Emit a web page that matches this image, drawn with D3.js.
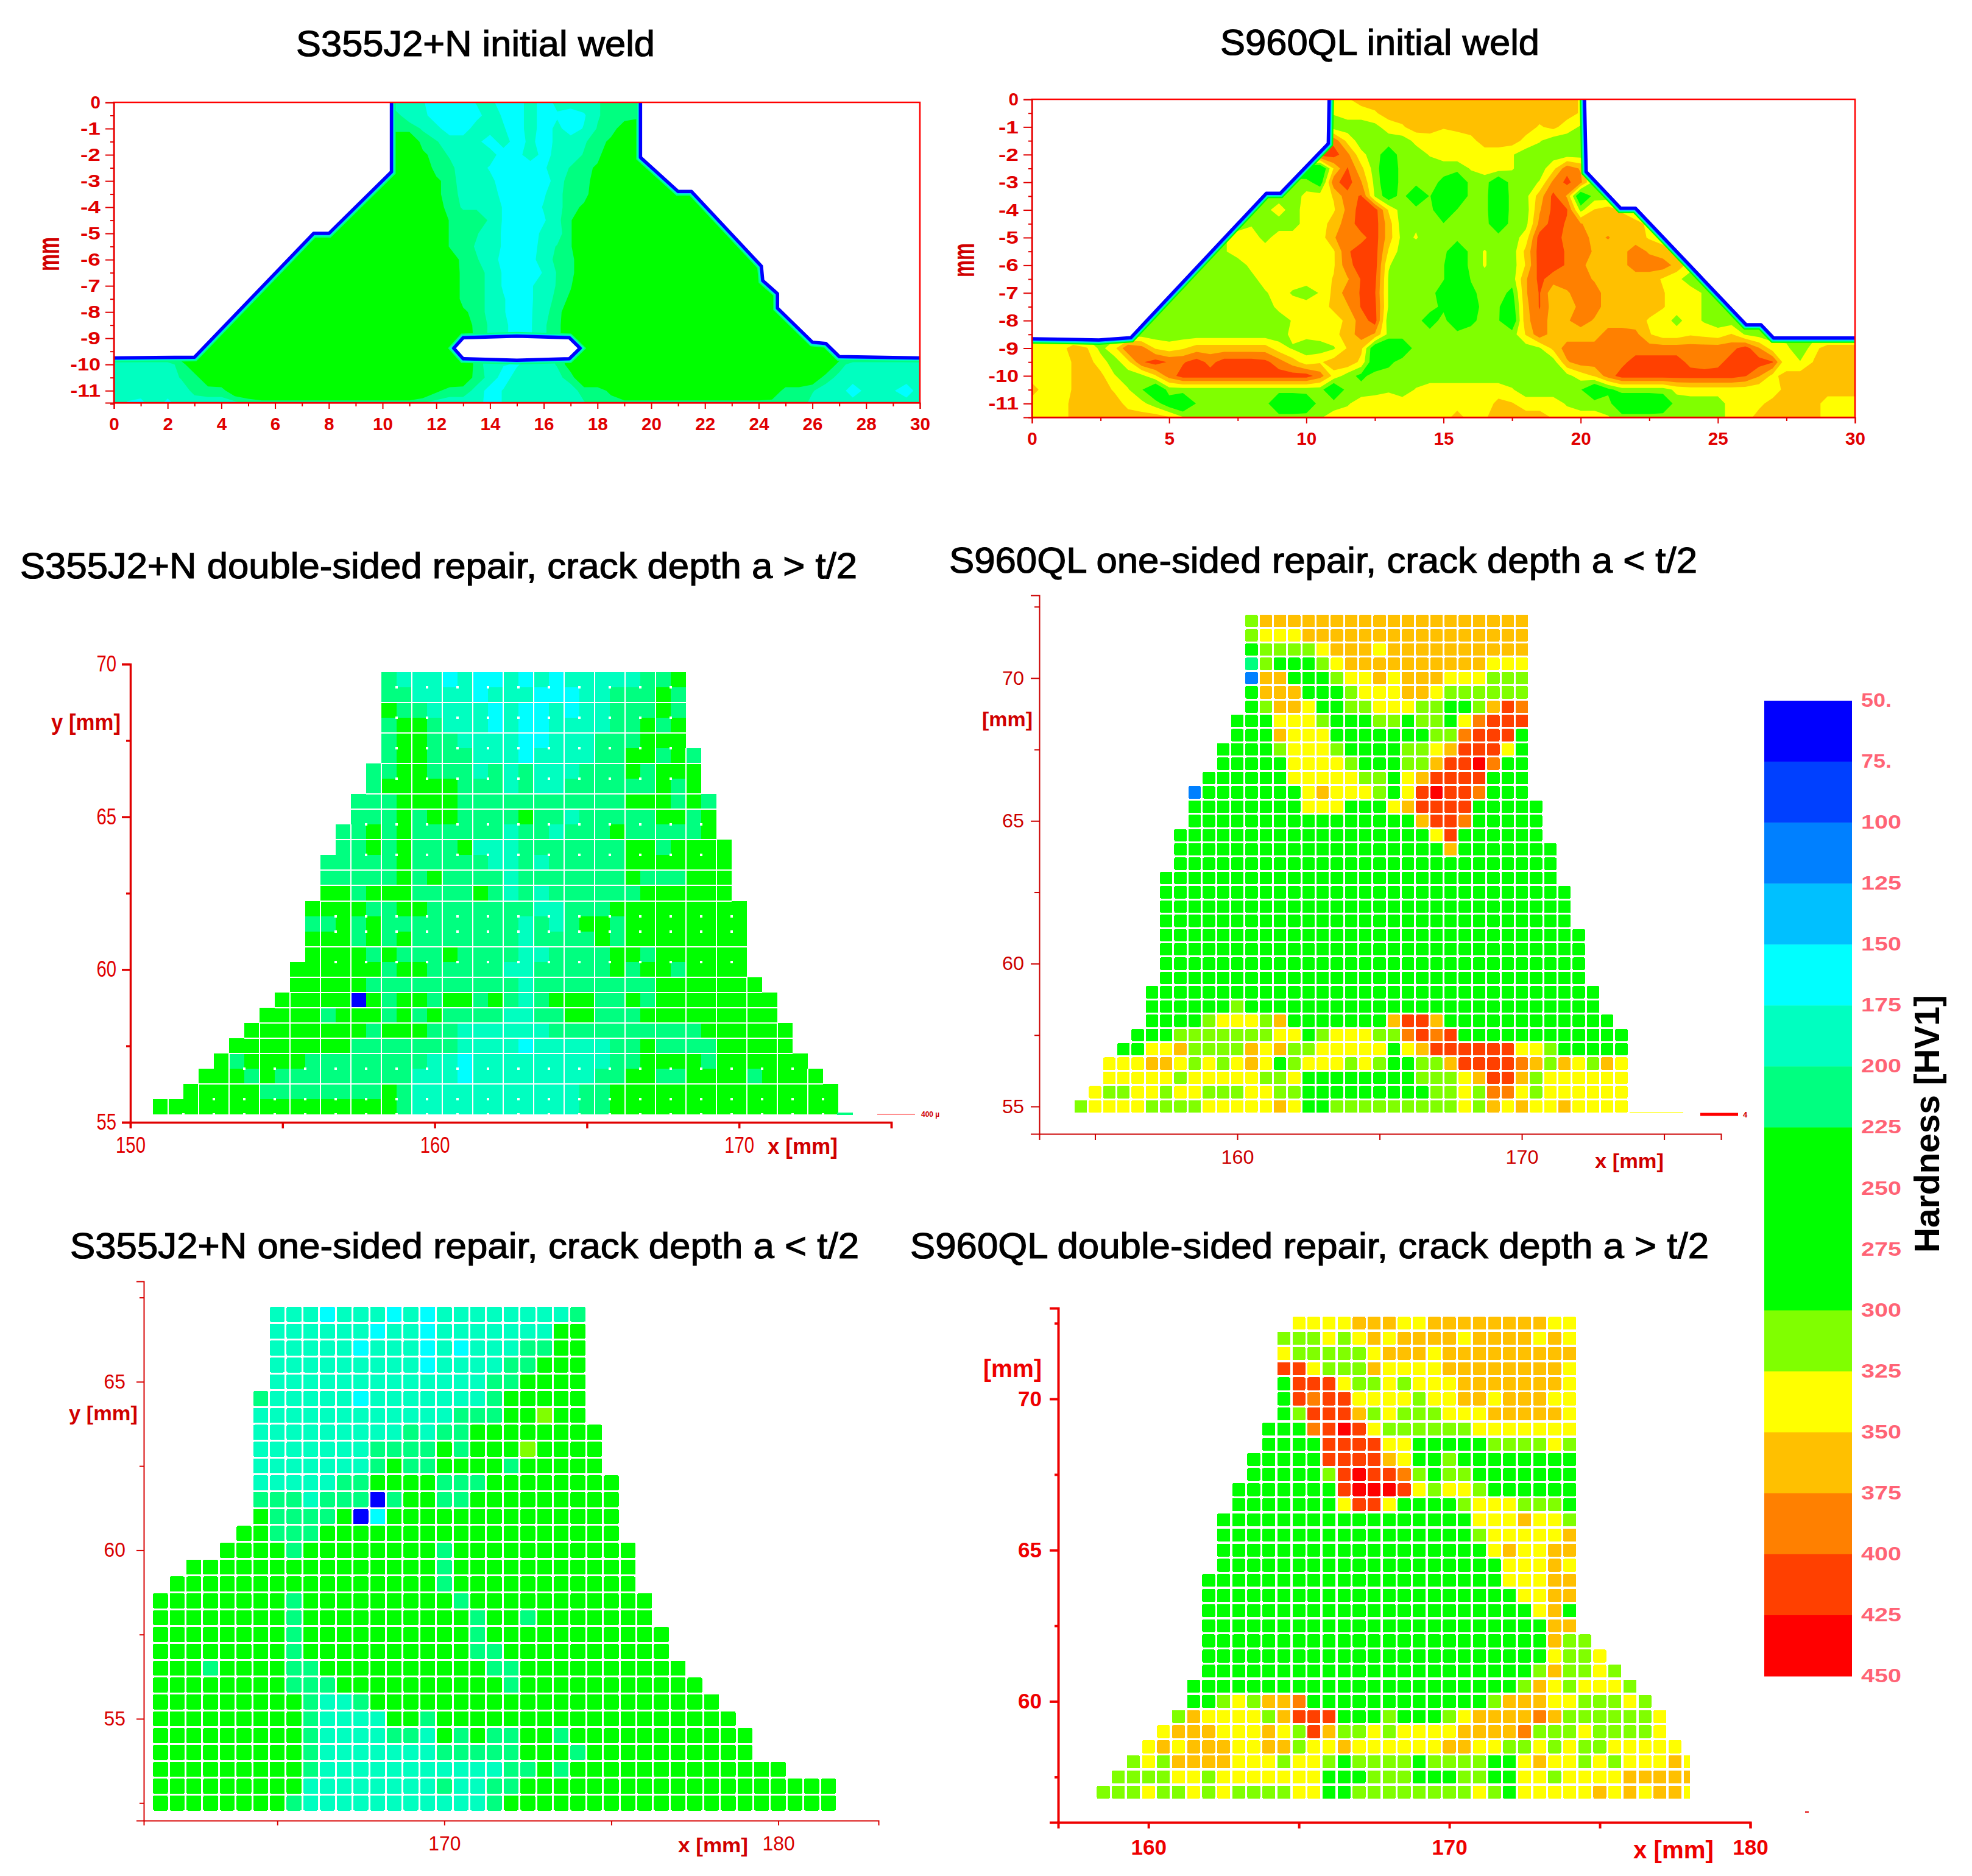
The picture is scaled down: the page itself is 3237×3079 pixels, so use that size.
<!DOCTYPE html>
<html>
<head>
<meta charset="utf-8">
<title>Hardness maps</title>
<script src="https://cdn.jsdelivr.net/npm/d3@7"></script>
<style>
    html, body { margin: 0; padding: 0; background: #fff; }
    svg { display: block; font-family: "Liberation Sans", Arial, sans-serif; }
</style>
</head>
<body>
<svg id="chart" width="3237" height="3079" viewBox="0 0 3237 3079"></svg>
<script>
"use strict";

// ------------------------- Data -------------------------

const titles = [
    'S355J2+N initial weld',
    'S960QL initial weld',
    'S355J2+N double-sided repair, crack depth a > t/2',
    'S960QL one-sided repair, crack depth a < t/2',
    'S355J2+N one-sided repair, crack depth a < t/2',
    'S960QL double-sided repair, crack depth a > t/2'
];

const bandEdges = [50, 75, 100, 125, 150, 175, 200, 225, 250, 275, 300, 325, 350, 375, 400, 425, 450];
const bandLabels = ['50.', '75.', '100', '125', '150', '175', '200', '225', '250', '275', '300', '325', '350', '375', '400', '425', '450'];
const bandColors = ['#0000ff', '#0040ff', '#0080ff', '#00c0ff', '#00ffff', '#00ffc0', '#00ff80', '#00ff00',
    '#00ff00', '#00ff00', '#80ff00', '#ffff00', '#ffc000', '#ff8000', '#ff4000', '#ff0000'];

// One letter per reading: the hardness it stands for, HV1
const letterHardness = { a: 62, b: 87, c: 112, d: 137, e: 162, f: 187, g: 212, h: 262, i: 312, j: 337, k: 362, l: 387, m: 412, n: 437 };

// Initial welds: one line per 0.5 mm of depth, "hardness letter, up to x [mm]"
const weld355Profiles = [
    'f 11.6 e 13.5 f 14.2 e 15.3 f 15.8 e 16.4 f 18.1 g 30',
    'g 10.7 f 11.7 e 13.7 f 14.5 e 15.3 f 15.8 e 16.4 f 16.6 e 17.6 f 18.1 g 30',
    'g 11.5 f 12.2 e 13.3 f 14.6 e 15.3 f 15.8 e 16.4 f 16.8 e 17.5 f 18 g 19 h 30',
    'h 11.3 g 12.1 f 13.7 e 14.3 f 14.8 e 15.4 f 15.8 e 16.4 f 17.6 g 18.6 h 30',
    'h 11.5 g 12.5 f 14.3 e 15.2 f 15.9 e 16.4 f 17.5 g 18.3 h 30',
    'h 11.7 g 12.7 f 14 e 16.1 f 17 g 18.1 h 30',
    'h 12 g 12.8 f 14.2 e 16.3 f 16.8 g 18 h 30',
    'h 12 g 12.9 f 14.4 e 16.1 f 16.7 g 17.9 h 30',
    'h 12.1 g 13 f 13.6 g 14 f 14.5 e 16 f 16.7 g 17.6 h 30',
    'h 12.4 g 14 f 14.5 e 16.1 f 16.7 g 17.2 h 30',
    'h 12.4 g 13.6 f 14.5 e 15.9 f 16.8 g 17.2 h 30',
    'h 12.4 g 13.5 f 14.5 e 15.8 f 16.5 g 17.2 h 30',
    'h 12.7 g 13.6 f 14.4 e 15.7 f 16.4 g 17.3 h 30',
    'h 12.8 g 13.9 f 14.5 e 16 f 16.5 g 17.3 h 30',
    'h 12.8 g 13.9 f 14.5 e 15.6 f 16.5 g 17.2 h 30',
    'h 12.8 g 13.9 f 14.6 e 15.6 f 16.4 g 17.1 h 30',
    'h 13 g 13.9 f 14.6 e 15.6 f 16.2 g 16.9 h 30',
    'h 13.2 g 14 f 14.7 e 15.6 f 16.1 g 16.8 h 30',
    'h 13.3 g 14 f 14.7 e 15.6 f 16.1 g 16.8 h 30',
    'h 13.3 g 14 f 14.7 e 15.4 f 16.2 g 16.9 h 30',
    'f 2.3 g 2.9 h 13.3 g 13.8 f 14.6 e 15.1 f 16.5 g 17 h 26.8 g 27.3 f 30',
    'f 2.5 g 3.4 h 13.2 g 13.9 f 14.3 e 14.8 f 16.7 g 17.3 h 26.2 g 26.9 f 30',
    'f 2.9 g 4.4 h 12 g 13.6 e 14.5 f 17.3 g 18.6 h 24.7 g 26.1 f 27.3 e 27.9 f 29.1 e 29.8 f 30',
    'f 0.5 e 1.2 f 1.9 e 2.3 f 5 g 11.5 f 13.8 e 14.5 f 17.6 g 25.9 f 30'
];

const weld960Profiles = [
    'j 11.6 k 20 j 30',
    'i 11 j 12.6 k 20 j 30',
    'i 12.7 j 13.6 k 15.1 j 15.4 k 18.4 j 18.7 k 19.2 j 20 i 30',
    'm 11.1 k 11.4 j 11.8 i 13.9 j 16.2 k 17.9 j 18.6 i 30',
    'm 11.4 l 11.6 k 11.8 j 12.2 i 12.8 h 13.1 i 14.5 j 17.6 i 30',
    'h 11 m 11.6 l 11.9 k 12.1 j 12.5 i 12.7 h 13.2 i 16 j 17.6 i 18.9 j 19.1 k 19.5 m 20.1 i 30',
    'i 10.5 h 10.8 k 11 m 11.8 l 12.1 k 12.3 j 12.4 i 12.8 h 13.2 i 15.1 h 15.8 i 16.8 h 17.2 i 18.6 j 18.7 k 18.9 l 19.4 m 20 l 20.2 i 30',
    'i 9.9 j 11 k 11.4 l 11.6 m 12.1 l 12.3 j 12.5 i 12.9 h 13.2 i 13.8 h 14.3 i 14.7 h 15.8 i 16.8 h 17.3 i 18.2 j 18.4 k 18.7 l 18.9 m 19.6 i 19.8 h 20.3 i 30',
    'i 8.7 j 9.3 i 9.8 j 11.1 k 11.4 l 11.8 m 12.8 l 13 j 13.1 i 14.8 h 15.4 i 16.8 h 17.3 i 18.3 j 18.4 k 18.5 l 18.9 m 19.6 l 19.8 i 20.2 j 20.5 k 21.5 j 22 i 30',
    'i 7.9 j 8.1 i 9.8 j 10.8 k 11.3 l 11.8 m 12.8 l 13 k 13.1 j 13.3 i 13.8 j 14 i 15 h 15.1 i 16.8 h 17.2 i 18.2 j 18.3 k 18.5 l 18.7 m 19.5 l 20.1 k 22.4 j 30',
    'i 7.1 j 8.4 i 8.8 j 10.8 k 11.1 l 11.6 m 11.8 l 12.2 m 12.8 l 13 k 13.1 j 13.4 i 13.8 j 14.1 i 18 j 18.1 k 18.3 m 19.4 l 20.4 k 20.8 l 21.1 k 22.5 j 30',
    'i 7.1 j 11.1 k 11.3 l 11.6 m 12.8 l 13 j 13.1 i 15.3 h 15.8 i 16.4 j 16.7 i 17.8 j 18 k 18.2 l 18.3 m 19.5 l 20.5 k 21.7 l 22.5 k 23.6 j 30',
    'i 7.9 j 11.1 k 11.4 l 11.6 m 12.8 k 12.9 j 13 i 15.2 h 15.8 i 16.4 j 16.7 i 17.8 j 18 k 18.3 m 19.5 l 20.2 k 21.7 l 23.6 j 30',
    'i 8.2 j 11 k 11.6 l 12 m 12.7 l 12.8 j 13 i 15.2 h 15.9 i 16.5 j 16.6 i 17.8 j 17.9 k 18 l 18.3 m 18.7 l 20.5 k 23 j 23.7 i 30',
    'i 8.6 j 9.5 i 10.5 j 10.9 k 11.3 l 12 m 12.7 k 12.8 j 13 i 15 h 16 i 17.3 h 17.5 i 17.8 j 17.9 k 18 l 18.3 m 18.6 l 19 j 19.3 k 19.6 l 20.8 k 23.1 j 24.5 i 30',
    'i 8.9 j 10.9 k 11.4 j 11.5 l 12 m 12.7 l 12.8 j 13 i 15.1 h 16.1 i 17.2 h 17.6 i 17.8 j 17.9 k 18.1 l 18.3 m 18.6 l 18.8 k 19.9 l 20.8 k 23.1 j 24.5 i 30',
    'i 9.3 j 9.6 i 10 j 11.4 k 11.8 l 12.3 m 12.8 k 12.9 j 13 i 13.1 h 13.3 i 14.3 h 14.6 i 15.3 h 16 i 17.2 h 17.7 i 17.8 j 17.9 k 18.1 l 18.3 m 18.6 k 19.6 l 20.5 k 22.5 j 23.4 i 23.8 j 24.5 i 30',
    'i 9.4 j 10 i 10.1 j 11.2 k 11.8 l 12.5 k 12.8 j 12.9 i 17.8 j 18 k 18.3 m 18.6 k 20.8 l 22.2 k 22.6 j 24.1 k 24.4 j 25.5 k 25.8 j 26 i 30',
    'j 1.3 k 2.1 j 2.4 i 3.1 l 3.6 m 3.9 l 4.2 k 4.5 j 5.6 k 8.8 j 9.5 i 11.1 j 11.5 k 11.8 l 12 j 12.3 i 12.4 h 13.7 i 18.6 j 18.9 k 19.3 l 25.7 m 26.3 l 26.6 k 26.8 j 27.7 i 28.1 h 28.2 i 28.5 k 30',
    'j 1.5 k 2.3 j 2.8 i 3.5 k 3.8 l 4.1 m 5 l 5.6 m 6.3 l 6.7 m 8.7 l 9.3 k 9.8 j 10.6 k 11.6 l 11.8 k 12 j 12.2 i 12.4 h 13 i 19.3 j 19.4 k 19.5 l 21.7 m 23.9 l 25.2 m 27.1 l 27.3 j 27.6 i 28 j 28.5 k 30',
    'j 1.5 k 2.7 j 3.1 i 4.2 j 4.6 k 4.9 l 5.2 m 10.3 l 10.8 k 11 j 11.2 i 11.8 h 12 i 19.7 j 20.5 k 20.8 l 21.3 m 26.1 l 26.6 k 26.9 j 27.3 k 30',
    'k 0.3 j 1.5 k 3 j 3.6 i 4.2 h 4.8 i 10.8 h 11.3 i 12.7 j 13 i 14 j 17.6 i 20.2 h 21 i 23.4 j 26.7 i 27 j 27.2 k 30',
    'j 1.4 k 3.4 j 4.2 i 5 h 5.9 i 8.8 h 10.2 i 11.6 j 16.9 k 17.6 j 19.5 i 21.3 h 23.2 i 25.3 j 26.7 k 28.8 j 30',
    'j 1.4 k 5.1 j 5.6 i 10.6 j 15.3 k 15.8 j 16.6 k 19 j 21.1 i 25.3 j 26.3 k 28.8 j 30'
];

// Weld surface [x mm, depth mm]
const weld355Outline = [[0, -9.75], [3, -9.72], [7.43, -5], [8, -5], [10.33, -2.65], [10.33, 0], [19.6, 0], [19.6, -2.1],
    [21, -3.4], [21.5, -3.4], [24.1, -6.25], [24.15, -6.8], [24.7, -7.3], [24.7, -7.85], [26, -9.15], [26.5, -9.2], [27, -9.7], [30, -9.75]];
const weld355Hole = [[12.65, -9.38], [13, -8.98], [15, -8.92], [16.95, -8.98], [17.35, -9.38], [16.95, -9.78], [15, -9.84], [13, -9.78]];
const weld960Outline = [[0, -8.66], [2.44, -8.7], [3.6, -8.62], [8.54, -3.4], [9.05, -3.4], [10.8, -1.6], [10.83, 0], [20.14, 0], [20.2, -2.62],
    [21.46, -3.94], [22, -3.94], [26.03, -8.15], [26.57, -8.15], [27.03, -8.63], [30, -8.63]];

// Indent measurements: one line per row, top row first. ".15" skips 15 columns, "h8" is eight h readings
const double355Rows = [
    '.15gfffefeefefefffffggh', '.15ggffffefffeeeffggghg', '.15hggffffefeefeffggghg', '.15ghhgfffefeeffffgghgh',
    '.15ghhggffffeefffggghhh', '.15ghhgggfffeffffgghhghg', '.14gghhgggfgfgfffggghghhh', '.14ghhhhhgggfgffgggggghgh',
    '.13ggghhhhg11hhhghg', '.13ggghghhgggghggfggggghhgh', '.12gghghg6fggfggghg5h', '.12gghghggghfffg7hhghhhh',
    '.11g5hg5ffgfg5h7', '.11g5hghggggfg7hggghhh', '.11hhghhhgggghgfgfg6h6', '.10hhhhgghhg7ffgggh9',
    '.10gghghg9fgfghhgh8', '.10hhhghghg7fgggghgh8', '.10hhhhghggghggggffgggghhghhhhhh', '.9h6ghhg5ffg5hghhghhhh',
    '.9h5g10fg8h7', '.8h5ahghhghhghgfghhhgghgh8', '.7hhhhghhhghghggggffgghhggghh8', '.6h8ghhhggf6g10h6',
    '.5h8g7ffffef5gghgggghhhhh', '.4hghhhhg8ffef9gghhhhgh6', '.3hhhghg9fffef8gghhgghhhhghhhh', '.2h5g8hgf11ggh15',
    'h16gf11ggh15'
];
// Row boundaries of the double-sided S355 map that carry a full white seam
const double355Seams = [1, 3, 5, 7, 8, 10, 12, 13, 14, 17, 19, 20, 21, 22, 23, 24, 26];

const one960Rows = [
    '.12ik19', '.12ijjjk16', '.12hiiiijkkkjk10', '.12gihhhijk10jjj', '.12ckkhhhijjkjkkkjjjiii', '.12hkkkhhhijjjkkjiiiiii',
    '.12hikkjhhiijjjiihhikml', '.11hhhjjjihhhiihiihjlmmm', '.11hhhkjjjhhhhhhhiilmmmh', '.10hhhhijjjihhhhiijkmmmjh',
    '.10hhhhhjjjjihhhiikmmnlhh', '.9hhhhhhjjjjjiihjkmmmmhhh', '.8ch7jkjjjihjmnmmlhhh', '.8h8jjjhhhjkmmmmh5', '.8h16kmmlh5',
    '.7h18jmh6', '.7h19kh7', '.7h27', '.6h28', '.6h29', '.6h29', '.6h29', '.6h30', '.6h30', '.6h30', '.6h30', '.5h32', '.5h6ih25',
    '.5hhhhijjjikh7kmmkh12', '.4hhhi7jjhijjjiilmlmh12', '.3hhjjkiiiikjkiijjjjjhjkm6jjih5',
    '.2jjjkkjijijkjhijjjijihhiikmmmmlkikjikj', '.2jjjjjijjjjjiijh8iiijkmmkij6', '.1jiijjijjiiijjiih9iijilljij6',
    'ijjjjiiiijjjjjkjhhi9jikjkjjkjjjj'
];

const one355Rows = [
    '.7fffefffefef8g', '.7f6effef7hh', '.7f5efffefefffgghh', '.7f9ef4gghhh', '.7f13gghhhh', '.6gf5ef7gh5', '.6f12ggghhihh',
    '.6f9gfggh8', '.6f7gggghghhhihhhh', '.6f7ghgghhhhgh5', '.6f5gghhhhgggh8', '.6gggfgggaghhggh9', '.6hgggghaeh14',
    '.5hhgggh18', '.4hhhhgh8gh11', '.2h15gh11', '.1h16gh11', 'h8gh9gh11', 'h8gh10ghhgh7', 'h8gh10gh11', 'h8gh10ggh10',
    'hhhghhhhggh10ggh10', 'h8gggh10gh11', 'h9gffgh21', 'h9gffffhhgh18', 'h9gffffggfhghgghhgh11', 'h9gf7g5hhhgh10',
    'h9gf11gghgh13', 'h9f8gffggh19', 'h8gf11gh20'
];

const double960Rows = [
    '.13jjjjkkkjjk8jj', '.12iiijijkjkkkkjkkkkjkj', '.12jiiiiijkkkjk9', '.12mmjiiikjjjjk8j', '.12hmmmjiijijjjk7j',
    '.12hmlmmjjjjijjkkjkkkjj', '.12himmmkijiiijjjkkkkkj', '.11hhhlmnmji6j7', '.11hhhhmmmmjjhhhhhiiiiji', '.10h5mmmmkjhhih8',
    '.10h5imnmmlihiih7', '.9h7mnnnmjijjih6', '.9h7jmmjhhhhijjjiiih', '.8h17jjjkjji', '.8h17ijjjjjk', '.8h18jkjjkk', '.8h19jjjkj',
    '.7h20jjjkk', '.7h21jjkk', '.7h22jkh', '.7h23kk', '.7h23kii', '.7h23jiij', '.7h22ikiiji', '.6h22ikjijjji',
    '.6hhijikklh12ikkkjjiiiji', '.5ikjjjjikmmmhhhihhhijkkkklkiiiiiij', '.4jkkkjjjkjimkiijijjjjkkkkliiijiiiij',
    '.3jkjkkkjjkkijjkj6kkjjiijijiij5', '.2ijikkkkjjjijjihiiiihiiiihhjkjjijijjjkj', '.1iiiijjij7hhhiiihhhiihhjjijjjjk5',
    'iiijiijijiiiijjhhi8jihj5kjkjkkj'
];

const depthTicks = [0, -1, -2, -3, -4, -5, -6, -7, -8, -9, -10, -11];
const depthMinorTicks = [-0.5, -1.5, -2.5, -3.5, -4.5, -5.5, -6.5, -7.5, -8.5, -9.5, -10.5, -11.5];


// ------------------------- Setup -------------------------

const svg = d3.select('#chart');
const bandColor = d3.scaleThreshold().domain(bandEdges.slice(1, -1)).range(bandColors);

function addText(text, x, y, options) {
    const opts = Object.assign({ size: 30, anchor: 'start', fill: '#d00000', weight: 'normal', rotate: 0 }, options);
    const node = svg.append('text')
        .attr('transform', `translate(${x},${y}) rotate(${opts.rotate})`)
        .attr('text-anchor', opts.anchor)
        .attr('font-size', opts.size)
        .attr('font-weight', opts.weight)
        .attr('fill', opts.fill)
        .text(text);
    if (opts.length) {
        node.attr('textLength', opts.length).attr('lengthAdjust', 'spacingAndGlyphs');
    }
    if (opts.outline) {
        node.attr('stroke', opts.fill).attr('stroke-width', opts.outline);
    }
    return node;
}


// ------------------------- Axes -------------------------

function drawAxes(x, y, style) {
    const xAxis = d3.axisBottom(x)
        .tickValues(style.xTicks)
        .tickSizeOuter(0)
        .tickSize(style.xTickSize)
        .tickPadding(style.xPadding)
        .tickFormat(d => style.xLabels.includes(d) ? d : '');
    const yAxis = d3.axisLeft(y)
        .tickValues(style.yTicks)
        .tickSizeOuter(0)
        .tickSize(style.yTickSize)
        .tickPadding(style.yPadding)
        .tickFormat(d => style.yLabels.includes(d) ? d : '');

    const xGroup = svg.append('g').attr('transform', `translate(0,${y.range()[0]})`).call(xAxis);
    const yGroup = svg.append('g').attr('transform', `translate(${x.range()[0]},0)`).call(yAxis);

    [xGroup, yGroup].forEach(group => {
        group.attr('font-family', null).attr('font-size', null);
        group.selectAll('path, line').attr('stroke', style.color).attr('stroke-width', style.width);
        group.selectAll('text')
            .attr('fill', style.color)
            .attr('font-size', style.fontSize)
            .attr('font-weight', style.fontWeight || 'normal')
            .attr('textLength', function () { return this.textContent.length * style.digitWidth || null; })
            .attr('lengthAdjust', 'spacingAndGlyphs');
    });
    xGroup.selectAll('.tick line').attr('y2', d => style.xLabels.includes(d) ? style.xTickSize : style.xMinorSize);
    yGroup.selectAll('.tick line').attr('x2', d => style.yLabels.includes(d) ? -style.yTickSize : -style.yMinorSize);
}


// ------------------------- Contour panels -------------------------

function profileHardness(profile, position) {
    const tokens = profile.split(' ');
    for (let i = 0; i < tokens.length; i += 2) {
        if (position < Number(tokens[i + 1])) {
            return letterHardness[tokens[i]];
        }
    }
    return letterHardness[tokens[tokens.length - 2]];
}

// Reading for the 0.5 mm cell around a position
function cellHardness(profile, position) {
    return d3.mean([-0.2, -0.1, 0, 0.1, 0.2], offset => profileHardness(profile, position + offset));
}

// The surface line stops at the open top of the groove
function splitAtTop(outline) {
    const top = outline.findIndex((d, i) => d[1] === 0 && outline[i + 1][1] === 0);
    return [outline.slice(0, top + 1), outline.slice(top + 1)];
}

function drawContourPanel(panel) {
    const x = d3.scaleLinear().domain([0, 30]).range(panel.xRange);
    const y = d3.scaleLinear().domain([0, panel.bottom]).range(panel.yRange);

    // Grid of readings: 0.5 mm across, 0.5 mm down
    const columns = 61;
    const values = panel.profiles.flatMap(profile => d3.range(columns).map(i => cellHardness(profile, i * 0.5)));
    const contours = d3.contours()
        .size([columns, panel.profiles.length])
        .thresholds(bandEdges.slice(0, -1))(values);

    const project = d3.geoTransform({
        point(px, py) {
            this.stream.point(x((px - 0.5) * 0.5), y(-(py - 0.5) * 0.5));
        }
    });
    const contourPath = d3.geoPath(project);
    const line = d3.line().x(d => x(d[0])).y(d => y(d[1]));

    const closed = panel.outline.concat([[30, panel.bottom], [0, panel.bottom]]);
    const holePath = panel.hole ? line(panel.hole) + 'Z' : '';
    svg.append('clipPath').attr('id', panel.id)
        .append('path')
        .attr('clip-rule', 'evenodd')
        .attr('d', line(closed) + 'Z' + holePath);

    const weld = svg.append('g').attr('clip-path', `url(#${panel.id})`);

    weld.selectAll('path.band')
        .data(contours)
        .join('path')
        .classed('band', true)
        .attr('d', contourPath)
        .attr('fill', d => bandColor(d.value));

    // Readings fall off towards the weld surface, which shows as thin bands along it
    const surfaces = splitAtTop(panel.outline).map(part => line(part)).concat(holePath ? [holePath] : []);
    panel.edgeBands.forEach(edge => {
        surfaces.forEach(d => {
            weld.append('path')
                .attr('d', d)
                .attr('fill', 'none')
                .attr('stroke', edge.color)
                .attr('stroke-width', edge.width);
        });
    });

    surfaces.forEach(d => {
        svg.append('path')
            .attr('d', d)
            .attr('fill', 'none')
            .attr('stroke', '#0000ff')
            .attr('stroke-width', 5.5)
            .attr('stroke-linejoin', 'round');
    });

    svg.append('rect')
        .attr('x', x(0))
        .attr('y', y(0))
        .attr('width', x(30) - x(0))
        .attr('height', y(panel.bottom) - y(0))
        .attr('fill', 'none')
        .attr('stroke', '#ff0000')
        .attr('stroke-width', 2.5);

    drawAxes(x, d3.scaleLinear().domain([panel.bottom, 0]).range([panel.yRange[1], panel.yRange[0]]), {
        xTicks: panel.xTicks,
        xLabels: panel.xLabels,
        yTicks: depthTicks.concat(depthMinorTicks),
        yLabels: depthTicks,
        xTickSize: 10,
        xMinorSize: 6,
        yTickSize: 14,
        yMinorSize: 6,
        xPadding: panel.xPadding,
        yPadding: panel.yPadding,
        width: 2,
        color: '#e00000',
        fontSize: 30,
        fontWeight: 'bold',
        digitWidth: 16.5
    });
}


// ------------------------- Indent maps -------------------------

function decodeRow(row) {
    return row.replace(/([a-n.])(\d+)/g, (match, letter, count) => letter.repeat(Number(count))).split('');
}

function drawIndentPanel(panel) {
    const x = d3.scaleLinear().domain(panel.xDomain).range(panel.xRange);
    const y = d3.scaleLinear().domain(panel.yDomain).range(panel.yRange);
    const rightEdge = panel.cutAt ? x(panel.cutAt) : Infinity;

    const cells = panel.rows.flatMap((row, r) => decodeRow(row).map((letter, c) => ({
        r,
        c,
        letter,
        xValue: panel.firstX + c * 0.5,
        yValue: panel.topY - r * 0.5,
        hardness: letterHardness[letter]
    })).filter(cell => cell.letter !== '.'));

    svg.append('g')
        .attr('shape-rendering', 'crispEdges')
        .selectAll('rect')
        .data(cells)
        .join('rect')
        .attr('x', d => x(d.xValue - 0.25) + panel.gap / 2)
        .attr('y', d => y(d.yValue + 0.25) + panel.gap / 2)
        .attr('width', d => Math.min(x(d.xValue + 0.25) - panel.gap / 2, rightEdge) - x(d.xValue - 0.25) - panel.gap / 2)
        .attr('height', d => y(d.yValue - 0.25) - y(d.yValue + 0.25) - panel.gap)
        .attr('rx', panel.gap ? 2 : 0)
        .attr('fill', d => bandColor(d.hardness));

    if (panel.seams) {
        drawSeams(cells, panel.seams, x, y);
    }
    drawAxes(x, y, panel.axes);
}

function drawSeams(cells, seams, x, y) {
    const seamLayer = svg.append('g').attr('fill', '#ffffff').attr('shape-rendering', 'crispEdges');

    d3.groups(cells, d => d.r).forEach(([r, rowCells]) => {
        const bottom = y(rowCells[0].yValue - 0.25);
        rowCells.slice(1).filter(d => d.c % 2 === 1).forEach(d => {
            seamLayer.append('rect')
                .attr('x', x(d.xValue - 0.25) - 1)
                .attr('y', y(d.yValue + 0.25))
                .attr('width', 2)
                .attr('height', bottom - y(d.yValue + 0.25));
        });
        if (seams.includes(r)) {
            const first = rowCells[0];
            const last = rowCells[rowCells.length - 1];
            seamLayer.append('rect')
                .attr('x', x(first.xValue - 0.25))
                .attr('y', bottom - 1)
                .attr('width', x(last.xValue + 0.25) - x(first.xValue - 0.25))
                .attr('height', 2);
        } else {
            rowCells.slice(1).filter(d => d.c % 2 === 0).forEach(d => {
                seamLayer.append('rect')
                    .attr('x', x(d.xValue - 0.25) - 2)
                    .attr('y', bottom - 2)
                    .attr('width', 4)
                    .attr('height', 4);
            });
        }
    });
}


// ------------------------- Legend -------------------------

function drawLegend() {
    const y = d3.scaleLinear().domain([50, 450]).range([1150, 2751]);

    svg.append('g')
        .selectAll('rect')
        .data(bandColors)
        .join('rect')
        .attr('x', 2896)
        .attr('y', (d, i) => y(bandEdges[i]))
        .attr('width', 144)
        .attr('height', (d, i) => y(bandEdges[i + 1]) - y(bandEdges[i]) + 0.5)
        .attr('fill', d => d);

    bandLabels.forEach((label, i) => {
        addText(label, 3055, y(bandEdges[i]) + 10, {
            size: 32,
            length: label.length === 3 && label !== '50.' && label !== '75.' ? 66 : 50,
            fill: '#ff3048',
            weight: 'bold'
        }).attr('opacity', 0.75);
    });

    addText('Hardness [HV1]', 3183, 2056, { size: 58, length: 423, rotate: -90, fill: '#000000', weight: 'bold' });
}


// ------------------------- Drawing -------------------------

const titleStyle = { size: 60, fill: '#000000', outline: 1.2 };
addText(titles[0], 486, 92, Object.assign({ length: 589 }, titleStyle));
addText(titles[1], 2003, 90, Object.assign({ length: 524 }, titleStyle));
addText(titles[2], 33, 949, Object.assign({ length: 1374 }, titleStyle));
addText(titles[3], 1558, 940, Object.assign({ length: 1228 }, titleStyle));
addText(titles[4], 115, 2065, Object.assign({ length: 1295 }, titleStyle));
addText(titles[5], 1494, 2065, Object.assign({ length: 1311 }, titleStyle));

drawContourPanel({
    id: 'weld355',
    profiles: weld355Profiles,
    outline: weld355Outline,
    hole: weld355Hole,
    bottom: -11.46,
    xRange: [187, 1510],
    yRange: [168, 661],
    xTicks: d3.range(0, 31),
    xLabels: d3.range(0, 31, 2),
    xPadding: 14,
    yPadding: 8,
    edgeBands: [{ color: '#00ff80', width: 14 }, { color: '#00ffc0', width: 10 }, { color: '#00c0ff', width: 7 }]
});
addText('mm', 97, 445, { size: 50, length: 56, rotate: -90, weight: 'bold' });

drawContourPanel({
    id: 'weld960',
    profiles: weld960Profiles,
    outline: weld960Outline,
    bottom: -11.5,
    xRange: [1694, 3045],
    yRange: [163, 685],
    xTicks: d3.range(0, 31, 2.5),
    xLabels: d3.range(0, 31, 5),
    xPadding: 14,
    yPadding: 8,
    edgeBands: [{ color: '#00ff00', width: 16 }, { color: '#00ff80', width: 12 }, { color: '#00ffc0', width: 10 }, { color: '#00c0ff', width: 8 }]
});
addText('mm', 1599, 455, { size: 50, length: 56, rotate: -90, weight: 'bold' });

drawIndentPanel({
    rows: double355Rows,
    seams: double355Seams,
    firstX: 151,
    topY: 69.5,
    gap: 0,
    xDomain: [150, 175],
    xRange: [214, 1463],
    yDomain: [55, 70],
    yRange: [1842, 1090],
    axes: {
        xTicks: [150, 155, 160, 165, 170, 175], xLabels: [150, 160, 170],
        yTicks: [55, 57.5, 60, 62.5, 65, 67.5, 70], yLabels: [55, 60, 65, 70],
        xTickSize: 10, xMinorSize: 10, yTickSize: 14, yMinorSize: 7, xPadding: 14, yPadding: 9,
        width: 3.5, color: '#e00000', fontSize: 36, digitWidth: 16.3
    }
});
addText('y [mm]', 84, 1198, { size: 36, length: 114, weight: 'bold' });
addText('x [mm]', 1260, 1894, { size: 36, length: 115, weight: 'bold' });
svg.append('line').attr('x1', 1440).attr('x2', 1502).attr('y1', 1829).attr('y2', 1829).attr('stroke', '#ff9090').attr('stroke-width', 2);
svg.append('line').attr('x1', 1374).attr('x2', 1400).attr('y1', 1828).attr('y2', 1828).attr('stroke', '#00ff80').attr('stroke-width', 4);
addText('400 µ', 1512, 1833, { size: 12, weight: 'bold' });

drawIndentPanel({
    rows: one960Rows,
    firstX: 154.5,
    topY: 72,
    gap: 3,
    xDomain: [153.04, 177],
    xRange: [1706, 2825],
    yDomain: [54.04, 72.9],
    yRange: [1861, 977],
    axes: {
        xTicks: [155, 160, 165, 170, 175], xLabels: [160, 170],
        yTicks: [55, 57.5, 60, 62.5, 65, 67.5, 70, 72.5], yLabels: [55, 60, 65, 70],
        xTickSize: 10, xMinorSize: 10, yTickSize: 14, yMinorSize: 8, xPadding: 16, yPadding: 11,
        width: 2, color: '#cc0000', fontSize: 32, digitWidth: 18
    }
});
addText('[mm]', 1612, 1192, { size: 34, length: 83, weight: 'bold' });
addText('x [mm]', 2618, 1917, { size: 34, length: 113, weight: 'bold' });
svg.append('line').attr('x1', 2675).attr('x2', 2763).attr('y1', 1826).attr('y2', 1826).attr('stroke', '#ffff60').attr('stroke-width', 2);
svg.append('line').attr('x1', 2791).attr('x2', 2853).attr('y1', 1829).attr('y2', 1829).attr('stroke', '#ff0000').attr('stroke-width', 5);
addText('4', 2861, 1834, { size: 13, weight: 'bold' });

drawIndentPanel({
    rows: one355Rows,
    firstX: 161.5,
    topY: 67,
    gap: 3,
    xDomain: [161, 183],
    xRange: [236, 1442],
    yDomain: [51.98, 67.98],
    yRange: [2988, 2103],
    axes: {
        xTicks: [165, 170, 175, 180], xLabels: [170, 180],
        yTicks: [52.5, 55, 57.5, 60, 62.5, 65, 67.5], yLabels: [55, 60, 65],
        xTickSize: 8, xMinorSize: 8, yTickSize: 12, yMinorSize: 7, xPadding: 18, yPadding: 18,
        width: 2, color: '#d80000', fontSize: 33, digitWidth: 17.7
    }
});
addText('y [mm]', 113, 2331, { size: 34, length: 113, weight: 'bold' });
addText('x [mm]', 1113, 3040, { size: 34, length: 115, weight: 'bold' });

drawIndentPanel({
    rows: double960Rows,
    firstX: 158.5,
    topY: 72.5,
    gap: 3.5,
    cutAt: 178,
    xDomain: [157, 180],
    xRange: [1737, 2873],
    yDomain: [56, 73],
    yRange: [2991, 2147],
    axes: {
        xTicks: [160, 165, 170, 175, 180], xLabels: [160, 170, 180],
        yTicks: [57.5, 60, 62.5, 65, 67.5, 70, 72.5], yLabels: [60, 65, 70],
        xTickSize: 10, xMinorSize: 10, yTickSize: 14, yMinorSize: 6, xPadding: 18, yPadding: 13,
        width: 4, color: '#ee0000', fontSize: 35, fontWeight: 'bold', digitWidth: 19.5
    }
});
addText('[mm]', 1614, 2260, { size: 40, length: 96, weight: 'bold', fill: '#ee0000' });
addText('x [mm]', 2681, 3050, { size: 40, length: 132, weight: 'bold', fill: '#ee0000' });
svg.append('line').attr('x1', 2963).attr('x2', 2969).attr('y1', 2974).attr('y2', 2974).attr('stroke', '#e00000').attr('stroke-width', 2);

drawLegend();
</script>
</body>
</html>
